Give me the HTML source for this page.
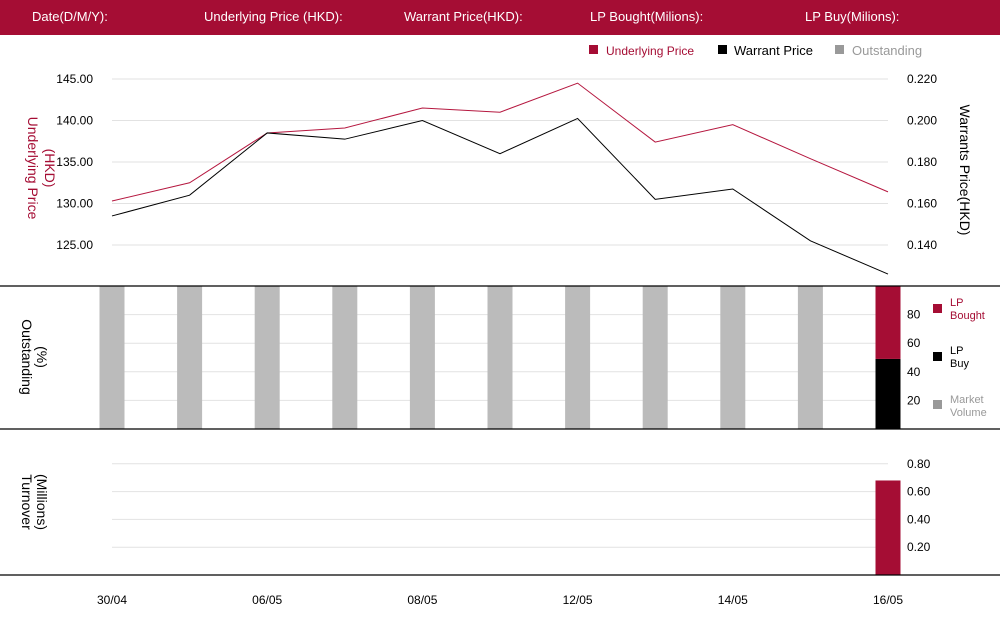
<!DOCTYPE html>
<html><head><meta charset="utf-8"><style>
body{margin:0;width:1000px;height:620px;overflow:hidden;background:#fff;font-family:"Liberation Sans",sans-serif;}
</style></head><body>
<svg width="1000" height="620" xmlns="http://www.w3.org/2000/svg" font-family="Liberation Sans, sans-serif">
<rect x="0" y="0" width="1000" height="35" fill="#a50d34"/>
<g fill="#fff" font-size="13">
<text x="32" y="21">Date(D/M/Y):</text>
<text x="204" y="21">Underlying Price (HKD):</text>
<text x="404" y="21">Warrant  Price(HKD):</text>
<text x="590" y="21">LP Bought(Milions):</text>
<text x="805" y="21">LP Buy(Milions):</text>
</g>
<g font-size="13">
<rect x="589" y="45" width="9" height="9" fill="#a50d34"/>
<text x="606" y="55" fill="#a50d34" font-size="12">Underlying Price</text>
<rect x="718" y="45" width="9" height="9" fill="#000"/>
<text x="734" y="55" fill="#000">Warrant  Price</text>
<rect x="835" y="45" width="9" height="9" fill="#999"/>
<text x="852" y="55" fill="#999">Outstanding</text>
</g>
<text transform="translate(28,168) rotate(90)" text-anchor="middle" fill="#a50d34" font-size="14"><tspan x="0" dy="0">Underlying Price</tspan><tspan x="0" dy="-17">(HKD)</tspan></text>
<text transform="translate(960,170) rotate(90)" text-anchor="middle" fill="#000" font-size="14">Warrants  Price(HKD)</text>
<text transform="translate(22,357) rotate(90)" text-anchor="middle" fill="#000" font-size="14"><tspan x="0" dy="0">Outstanding</tspan><tspan x="0" dy="-15">(%)</tspan></text>
<text transform="translate(22,502) rotate(90)" text-anchor="middle" fill="#000" font-size="14"><tspan x="0" dy="0">Turnover</tspan><tspan x="0" dy="-15">(Millions)</tspan></text>
<g font-size="11">
<rect x="933" y="304" width="9" height="9" fill="#a50d34"/>
<text x="950" y="306" fill="#a50d34"><tspan x="950">LP</tspan><tspan x="950" dy="13">Bought</tspan></text>
<rect x="933" y="352" width="9" height="9" fill="#000"/>
<text x="950" y="354" fill="#000"><tspan x="950">LP</tspan><tspan x="950" dy="13">Buy</tspan></text>
<rect x="933" y="400" width="9" height="9" fill="#999"/>
<text x="950" y="403" fill="#999"><tspan x="950">Market</tspan><tspan x="950" dy="13">Volume</tspan></text>
</g>
<g id="plot"></g>
</svg>
<script>
const categories=["30/04","02/05","06/05","07/05","08/05","09/05","12/05","13/05","14/05","15/05","16/05"];
const xLabels=["30/04","","06/05","","08/05","","12/05","","14/05","","16/05"];
const underlying=[130.3,132.5,138.5,139.1,141.5,141.0,144.5,137.4,139.5,135.4,131.4];
const warrant=[0.154,0.164,0.194,0.191,0.200,0.184,0.201,0.162,0.167,0.142,0.126];
const marketVolume=[100,100,100,100,100,100,100,100,100,100,0];
const lpBuy=[0,0,0,0,0,0,0,0,0,0,49];
const lpBought=[0,0,0,0,0,0,0,0,0,0,51];
const turnover=[0,0,0,0,0,0,0,0,0,0,0.68];
const leftTicks=[125,130,135,140,145];
const rightTicks=[0.140,0.160,0.180,0.200,0.220];
const pctTicks=[20,40,60,80];
const turnTicks=[0.2,0.4,0.6,0.8];

const NS="http://www.w3.org/2000/svg";
const g=document.getElementById('plot');
function mk(t,a,p){const e=document.createElementNS(NS,t);for(const k in a)e.setAttribute(k,a[k]);(p||g).appendChild(e);return e;}
const x0=112,x1=888;
const xs=i=>x0+i*(x1-x0)/(categories.length-1);
const yL=v=>79+(145-v)*166/20;
const yR=v=>79+(0.22-v)*166/0.08;
const yP=v=>429-v*1.43;
const yT=v=>575-v*139;

// gridlines & ticks
leftTicks.forEach(v=>{const l=mk('line',{x1:x0,x2:x1,y1:yL(v),y2:yL(v),stroke:'#e2e2e2'});
const t=mk('text',{x:93,y:yL(v)+4,'text-anchor':'end','font-size':12});t.textContent=v.toFixed(2);});
rightTicks.forEach(v=>{const t=mk('text',{x:907,y:yR(v)+4,'font-size':12});t.textContent=v.toFixed(3);});
pctTicks.forEach(v=>{const l=mk('line',{x1:x0,x2:x1,y1:yP(v),y2:yP(v),stroke:'#e2e2e2'});
const t=mk('text',{x:907,y:yP(v)+4,'font-size':12});t.textContent=v;});
turnTicks.forEach(v=>{const l=mk('line',{x1:x0,x2:x1,y1:yT(v),y2:yT(v),stroke:'#e2e2e2'});
const t=mk('text',{x:907,y:yT(v)+4,'font-size':12});t.textContent=v.toFixed(2);});

// lines
function line(arr,f,c,name){const p=mk('polyline',{points:arr.map((v,i)=>xs(i)+','+f(v)).join(' '),fill:'none',stroke:c,'stroke-width':1});}
line(underlying,yL,'#b5173f','underlying-price-line');
line(warrant,yR,'#000','warrant-price-line');

// bars
const bw=25;
categories.forEach((c,i)=>{
 if(marketVolume[i]>0){const r=mk('rect',{x:xs(i)-bw/2,y:yP(marketVolume[i]),width:bw,height:yP(0)-yP(marketVolume[i]),fill:'#bbb'});}
 if(lpBuy[i]>0){const r=mk('rect',{x:xs(i)-bw/2,y:yP(lpBuy[i]),width:bw,height:yP(0)-yP(lpBuy[i]),fill:'#000'});}
 if(lpBought[i]>0){const top=lpBuy[i]+lpBought[i];const r=mk('rect',{x:xs(i)-bw/2,y:yP(top),width:bw,height:yP(lpBuy[i])-yP(top),fill:'#a50d34'});}
 if(turnover[i]>0){const r=mk('rect',{x:xs(i)-bw/2,y:yT(turnover[i]),width:bw,height:yT(0)-yT(turnover[i]),fill:'#a50d34'});}
 if(xLabels[i]){const t=mk('text',{x:xs(i),y:604,'text-anchor':'middle','font-size':12});t.textContent=xLabels[i];}
});
[286,429,575].forEach(y=>{const l=mk('line',{x1:0,x2:1000,y1:y,y2:y,stroke:'#000','stroke-width':1.2});});
</script>
</body></html>
